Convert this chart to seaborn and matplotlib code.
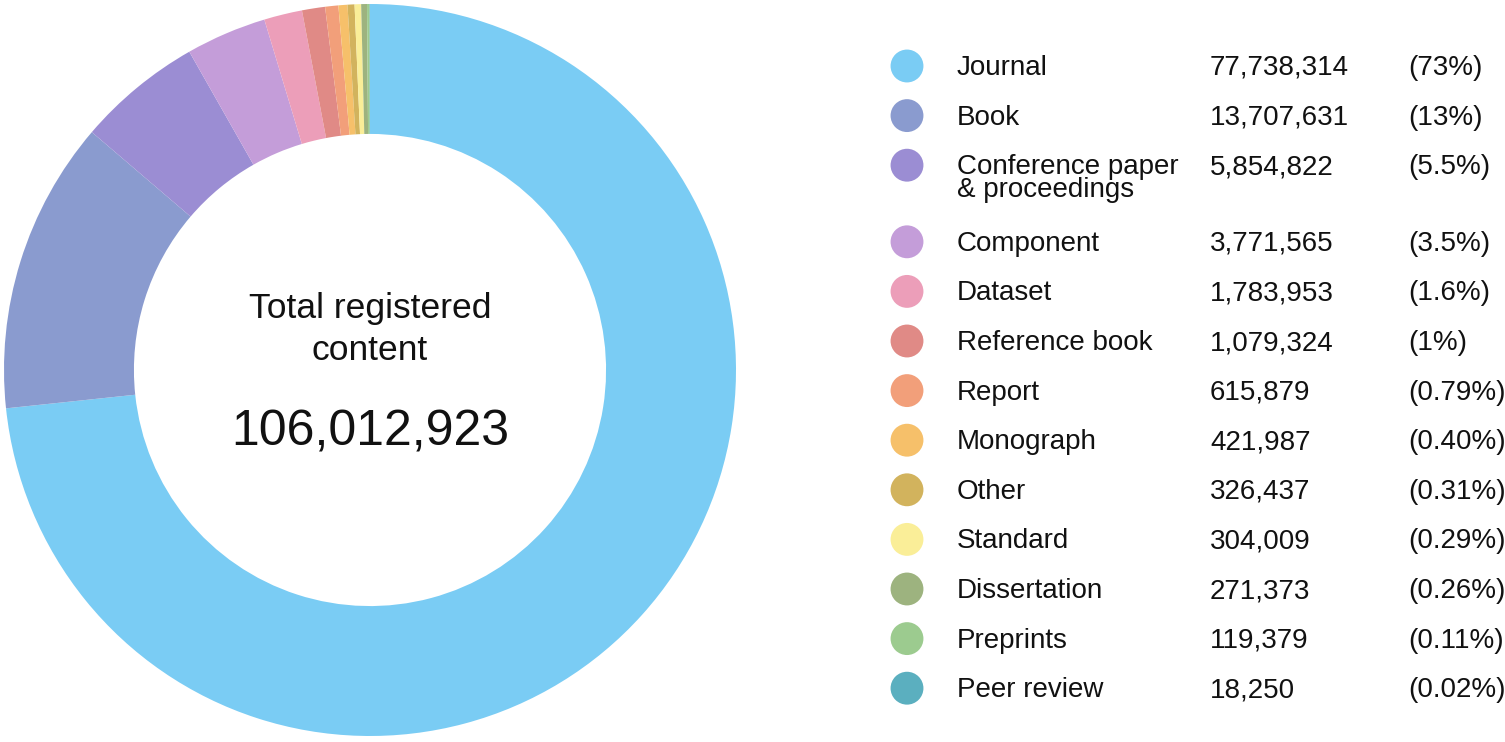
import matplotlib
matplotlib.use("Agg")
import matplotlib.pyplot as plt
import seaborn as sns
import pandas as pd
import numpy as np

categories = ["Journal", "Book", "Conference paper\n& proceedings", "Component", "Dataset",
              "Reference book", "Report", "Monograph", "Other", "Standard",
              "Dissertation", "Preprints", "Peer review"]
values = [77738314, 13707631, 5854822, 3771565, 1783953, 1079324, 615879,
          421987, 326437, 304009, 271373, 119379, 18250]
pct_labels = ["(73%)", "(13%)", "(5.5%)", "(3.5%)", "(1.6%)", "(1%)", "(0.79%)",
              "(0.40%)", "(0.31%)", "(0.29%)", "(0.26%)", "(0.11%)", "(0.02%)"]
colors = ["#7ACCF4", "#8A9BCF", "#9B8DD3", "#C49DD9", "#EC9EB9", "#E08A86", "#F29F7A",
          "#F6C06A", "#D2B35D", "#FAEE98", "#9DB37F", "#9CCB8F", "#5BAFBF"]
center_title = "Total registered\ncontent"
center_total = "106,012,923"

sns.set_theme(style="white")
plt.rcParams['font.family'] = ['Liberation Sans', 'DejaVu Sans']

W, H = 1505, 742
fig = plt.figure(figsize=(W / 100, H / 100), dpi=100)
fig.patch.set_facecolor("white")

# donut
cx, cy, R = 370, 370, 366
ax = fig.add_axes([(cx - R) / W, (H - cy - R) / H, 2 * R / W, 2 * R / H])
ax.pie(values, colors=colors, startangle=90, counterclock=False, radius=1,
       wedgeprops=dict(width=0.355, edgecolor="none", linewidth=0))
ax.set_xlim(-1, 1)
ax.set_ylim(-1, 1)
ax.set_aspect("auto")
ax.axis("off")

# overlay in pixel coords
ov = fig.add_axes([0, 0, 1, 1])
ov.set_xlim(0, W)
ov.set_ylim(H, 0)
ov.axis("off")
ov.patch.set_alpha(0)

ov.text(cx, 318, center_title.split("\n")[0], ha="center", va="baseline", fontsize=25.5, color="#111111")
ov.text(cx, 360, center_title.split("\n")[1], ha="center", va="baseline", fontsize=25.5, color="#111111")
ov.text(cx, 445, center_total, ha="center", va="baseline", fontsize=36, color="#111111")

rows = []
for i, (c, v, p) in enumerate(zip(categories, values, pct_labels)):
    y = 66 + 49.6 * i + (27 if i >= 3 else 0)
    rows.append(dict(cat=c, y=y, x=907))
df = pd.DataFrame(rows)
sns.scatterplot(data=df, x="x", y="y", hue="cat", palette=colors, s=560,
                edgecolor="none", legend=False, ax=ov)
ov.set_xlim(0, W)
ov.set_ylim(H, 0)
ov.axis("off")

for i, (c, v, p) in enumerate(zip(categories, values, pct_labels)):
    y = df["y"].iloc[i]
    for k, line in enumerate(c.split("\n")):
        ov.text(957, y + 9 + 23 * k, line, ha="left", va="baseline", fontsize=20, color="#111111")
    ov.text(1210, y + 9, f"{v:,}", ha="left", va="baseline", fontsize=20, color="#111111")
    ov.text(1408, y + 9, p, ha="left", va="baseline", fontsize=20, color="#111111")

fig.savefig("out.png", dpi=100, facecolor="white")
